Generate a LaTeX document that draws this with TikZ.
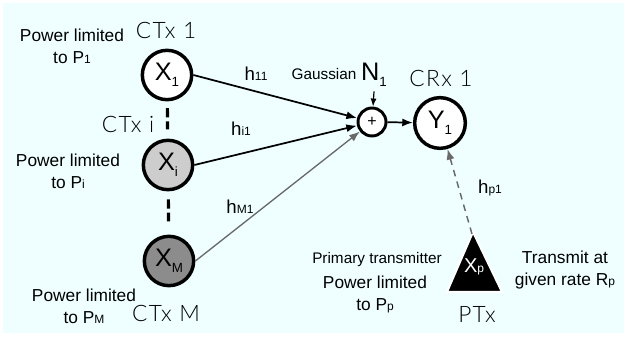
\documentclass[tikz,border=0pt]{standalone}
\usepackage{fontspec}
\setmainfont{Liberation Sans}
\newfontfamily\ctxfont{Lato}[UprightFont={* Light},LetterSpace=6]
\usetikzlibrary{arrows.meta}
\definecolor{bgcyan}{RGB}{239,255,255}
\definecolor{lightgr}{RGB}{205,205,205}
\definecolor{darkgr}{RGB}{140,140,140}
\definecolor{linegr}{RGB}{105,105,105}
\newcommand{\lo}[1]{\raisebox{-0.45ex}{\fontsize{10}{10}\selectfont #1}}
\newcommand{\sm}[1]{{\fontsize{9}{9}\selectfont #1}}

\begin{document}
\begin{tikzpicture}[x=7.5pt,y=-7.5pt,
        tx/.style={circle,draw,line width=2.6pt,minimum size=37pt,inner sep=0pt,font=\fontsize{19}{19}\selectfont},
        lbl/.style={align=center,font=\fontsize{13}{16.5}\selectfont},
        smalltxt/.style={align=center,font=\fontsize{11.5}{14}\selectfont},
        devname/.style={font=\ctxfont\fontsize{17}{17}\selectfont},
        chan/.style={line width=1.3pt,-{Latex[length=8pt,width=6pt]}},
        dots/.style={line width=2.4pt,dash pattern=on 7pt off 3pt}]
        %\draw [very thin, green]  (0,0) grid (62.4,34.8);
        \useasboundingbox (0,0) rectangle (62.4,34.8);
        \fill [bgcyan] (0.3,0.3) rectangle (62.4,33.3);

        \node at (16.7,7.5) [tx,fill=white] (x1) {X\lo{1}};
        \node at (16.8,16.5) [tx,fill=lightgr] (xi) {X\lo{i}};
        \node at (16.9,26.1) [tx,fill=darkgr] (xm) {X\lo{M}};
        \node at (37.2,12.2) [circle,draw,line width=2.2pt,fill=white,minimum size=21pt,inner sep=0pt,font=\fontsize{12}{12}\selectfont] (sum) {+};
        \node at (44.0,12.3) [tx,fill=white,minimum size=38pt] (y1) {Y\lo{1}};

        \draw [fill=black,draw=white,line width=1.5pt] (47.3,23.2) -- (50.2,29.2) -- (44.7,29.2) -- cycle;
        \coordinate (xpapex) at (47.2,23.4);
        \node at (47.4,26.7) [text=white,font=\fontsize{15}{15}\selectfont] (xp) {X\sm{p}};

        \node at (16.6,3.0) [devname] (ctx1) {CTx 1};
        \node at (12.8,12.4) [devname] (ctxi) {CTx i};
        \node at (16.6,31.3) [devname] (ctxm) {CTx M};
        \node at (44.1,7.8) [devname] (crx1) {CRx 1};
        \node at (47.7,31.4) [devname] (ptx) {PTx};

        \node at (7.2,4.6) [lbl] (pow1) {Power limited\\to P\sm{1}};
        \node at (6.8,17.1) [lbl] (powi) {Power limited\\to P\sm{i}};
        \node at (8.4,30.6) [lbl] (powm) {Power limited\\to P\sm{M}};
        \node at (37.5,29.4) [lbl] (powp) {Power limited\\to P\sm{p}};
        \node at (56.5,27.0) [lbl] (rate) {Transmit at\\given rate R\sm{p}};
        \node at (37.7,26.0) [smalltxt] (prim) {Primary transmitter};

        \node at (32.4,7.4) [smalltxt] (gauss) {Gaussian};
        \node at (37.4,7.5) [font=\fontsize{19}{19}\selectfont] (n1) {N\lo{1}};

        \node at (25.6,7.4) [font=\fontsize{14}{14}\selectfont] (h11) {h\sm{11}};
        \node at (24.1,12.9) [font=\fontsize{14}{14}\selectfont] (hi1) {h\sm{i1}};
        \node at (24.0,20.7) [font=\fontsize{14}{14}\selectfont] (hm1) {h\sm{M1}};
        \node at (49.0,18.8) [font=\fontsize{14}{14}\selectfont] (hp1) {h\sm{p1}};

        \draw [chan] (x1.east) -- (sum);
        \draw [chan] (xi.east) -- (sum);
        \draw [chan,linegr,line width=1pt] (xm.east) -- (sum);
        \draw [chan] (sum) -- (y1);
        \draw [line width=0.9pt,-{Latex[length=6pt,width=4.5pt]}] (n1.south) -- (sum);
        \draw [linegr,line width=1.1pt,dash pattern=on 5pt off 4pt,-{Latex[length=8pt,width=6pt]}] (xpapex) -- (y1);

        \draw [dots,shorten <=5pt,shorten >=7pt] (x1) -- (xi);
        \draw [dots,shorten <=6pt,shorten >=10pt] (xi) -- (xm);
    \end{tikzpicture}
\end{document}
